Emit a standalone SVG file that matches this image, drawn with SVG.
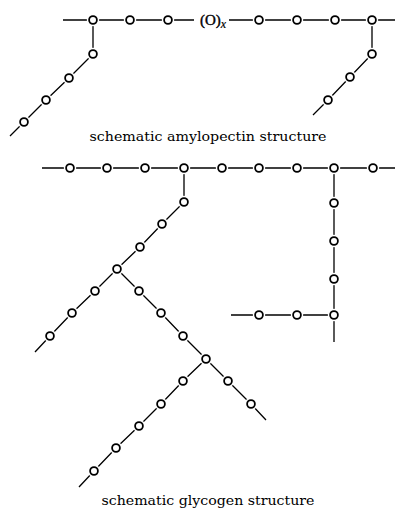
<svg xmlns="http://www.w3.org/2000/svg" width="396" height="510" viewBox="0 0 396 510">
<style>
.c{fill:none;stroke:#000;stroke-width:1.3}
.h{fill:#fff;stroke:none}
.n{fill:#fff;stroke:#000;stroke-width:1.8}
.cap{font-family:"DejaVu Serif","Liberation Serif",serif;font-size:13.5px;fill:#000}
.ox{font-family:"Liberation Serif",serif;font-size:15px;fill:#000;stroke:#000;stroke-width:0.4}
</style>
<defs>
<g id="node"><circle class="h" r="6.2"/><circle class="n" r="3.9"/></g>
</defs>
<rect width="396" height="510" fill="#fff"/>
<g id="connectors">
<path class="c" d="M63,20 H194"/>
<path class="c" d="M229,20 H395"/>
<path class="c" d="M93,20 V54 L69,78 L46,100 L24,122 L10,136"/>
<path class="c" d="M372,20 V54 L350,77 L328,100 L313,115"/>
<path class="c" d="M42,168 H395"/>
<path class="c" d="M184,168 V202 L162,224 L140,247 L117,269 L95,291 L72,313 L50,336 L35,352"/>
<path class="c" d="M117,269 L139,291 L161,313 L183,336 L206,359 L228,381 L251,404 L266,420"/>
<path class="c" d="M206,359 L183,381 L161,404 L139,426 L116,448 L94,471 L79,487"/>
<path class="c" d="M334,168 V342"/>
<path class="c" d="M231,315 H334"/>
</g>
<g id="amylopectin">
<g id="a1"><use href="#node" x="93" y="20"/></g>
<g id="a2"><use href="#node" x="130" y="20"/></g>
<g id="a3"><use href="#node" x="168" y="20"/></g>
<g id="ax"><text class="ox" x="200" y="25">(O)<tspan dy="3" font-style="italic" font-size="12" stroke-width="0.2">x</tspan></text></g>
<g id="a4"><use href="#node" x="259" y="20"/></g>
<g id="a5"><use href="#node" x="297" y="20"/></g>
<g id="a6"><use href="#node" x="335" y="20"/></g>
<g id="a7"><use href="#node" x="372" y="20"/></g>
<g id="a8"><use href="#node" x="93" y="54"/></g>
<g id="a9"><use href="#node" x="69" y="78"/></g>
<g id="a10"><use href="#node" x="46" y="100"/></g>
<g id="a11"><use href="#node" x="24" y="122"/></g>
<g id="a12"><use href="#node" x="372" y="54"/></g>
<g id="a13"><use href="#node" x="350" y="77"/></g>
<g id="a14"><use href="#node" x="328" y="100"/></g>
</g>
<text id="cap1" class="cap" x="208" y="141" text-anchor="middle" textLength="237" lengthAdjust="spacingAndGlyphs">schematic amylopectin structure</text>
<g id="glycogen">
<g id="g1"><use href="#node" x="70" y="168"/></g>
<g id="g2"><use href="#node" x="107" y="168"/></g>
<g id="g3"><use href="#node" x="145" y="168"/></g>
<g id="g4"><use href="#node" x="184" y="168"/></g>
<g id="g5"><use href="#node" x="222" y="168"/></g>
<g id="g6"><use href="#node" x="259" y="168"/></g>
<g id="g7"><use href="#node" x="297" y="168"/></g>
<g id="g8"><use href="#node" x="334" y="168"/></g>
<g id="g9"><use href="#node" x="373" y="168"/></g>
<g id="g10"><use href="#node" x="184" y="202"/></g>
<g id="g11"><use href="#node" x="162" y="224"/></g>
<g id="g12"><use href="#node" x="140" y="247"/></g>
<g id="g13"><use href="#node" x="117" y="269"/></g>
<g id="g14"><use href="#node" x="95" y="291"/></g>
<g id="g15"><use href="#node" x="72" y="313"/></g>
<g id="g16"><use href="#node" x="50" y="336"/></g>
<g id="g17"><use href="#node" x="139" y="291"/></g>
<g id="g18"><use href="#node" x="161" y="313"/></g>
<g id="g19"><use href="#node" x="183" y="336"/></g>
<g id="g20"><use href="#node" x="206" y="359"/></g>
<g id="g21"><use href="#node" x="228" y="381"/></g>
<g id="g22"><use href="#node" x="251" y="404"/></g>
<g id="g23"><use href="#node" x="183" y="381"/></g>
<g id="g24"><use href="#node" x="161" y="404"/></g>
<g id="g25"><use href="#node" x="139" y="426"/></g>
<g id="g26"><use href="#node" x="116" y="448"/></g>
<g id="g27"><use href="#node" x="94" y="471"/></g>
<g id="g28"><use href="#node" x="334" y="203"/></g>
<g id="g29"><use href="#node" x="334" y="241"/></g>
<g id="g30"><use href="#node" x="334" y="279"/></g>
<g id="g31"><use href="#node" x="334" y="315"/></g>
<g id="g32"><use href="#node" x="259" y="315"/></g>
<g id="g33"><use href="#node" x="297" y="315"/></g>
</g>
<text id="cap2" class="cap" x="208" y="505" text-anchor="middle" textLength="213" lengthAdjust="spacingAndGlyphs">schematic glycogen structure</text>
</svg>
